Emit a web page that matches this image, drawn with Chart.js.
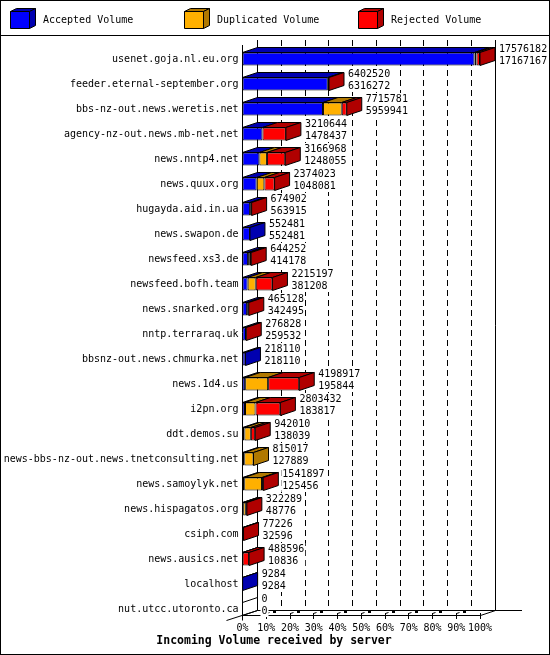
<!DOCTYPE html>
<html>
<head>
<meta charset="utf-8">
<script src="https://cdn.jsdelivr.net/npm/chart.js@4.4.1/dist/chart.umd.min.js"></script>
<style>
  html, body { margin: 0; padding: 0; background: #fff; }
  canvas { display: block; }
</style>
</head>
<body>
<canvas id="volume" width="550" height="655"></canvas>
<script>
var servers = [
  'usenet.goja.nl.eu.org', 'feeder.eternal-september.org', 'bbs-nz-out.news.weretis.net',
  'agency-nz-out.news.mb-net.net', 'news.nntp4.net', 'news.quux.org', 'hugayda.aid.in.ua',
  'news.swapon.de', 'newsfeed.xs3.de', 'newsfeed.bofh.team', 'news.snarked.org',
  'nntp.terraraq.uk', 'bbsnz-out.news.chmurka.net', 'news.1d4.us', 'i2pn.org', 'ddt.demos.su',
  'news-bbs-nz-out.news.tnetconsulting.net', 'news.samoylyk.net', 'news.hispagatos.org',
  'csiph.com', 'news.ausics.net', 'localhost', 'nut.utcc.utoronto.ca'
];
var totalVolume = [
  17576182, 6402520, 7715781, 3210644, 3166968, 2374023, 674902, 552481, 644252, 2215197,
  465128, 276828, 218110, 4198917, 2803432, 942010, 815017, 1541897, 322289, 77226, 488596,
  9284, 0
];
var acceptedVolume = [
  17167167, 6316272, 5959941, 1478437, 1248055, 1048081, 563915, 552481, 414178, 381208,
  342495, 259532, 218110, 195844, 183817, 138039, 127889, 125456, 48776, 32596, 10836,
  9284, 0
];
// duplicated / rejected split read off the bar segments (estimates)
var duplicatedVolume = [
  150000, 0, 1385000, 0, 560000, 570000, 0, 0, 80000, 600000,
  0, 0, 0, 1700000, 780000, 480000, 687128, 1320000, 200000, 0, 0,
  0, 0
];
var rejectedVolume = [
  259015, 86248, 370840, 1732207, 1358913, 755942, 110987, 0, 150074, 1233989,
  122633, 17296, 0, 2303073, 1839615, 323971, 0, 96441, 73513, 44630, 477760,
  0, 0
];
var pctTicks = [0, 10, 20, 30, 40, 50, 60, 70, 80, 90, 100];

var maxTotal = Math.max.apply(null, totalVolume);
var DX = 15, DY = 5;
var FONT = 'DejaVu Sans Mono';

var series = [
  { label: 'Accepted Volume', data: acceptedVolume, front: '#0000ff', dark: '#0000b0' },
  { label: 'Duplicated Volume', data: duplicatedVolume, front: '#ffb000', dark: '#b07800' },
  { label: 'Rejected Volume', data: rejectedVolume, front: '#ff0000', dark: '#b00000' }
];

function line(ctx, x1, y1, x2, y2) {
  ctx.beginPath();
  ctx.moveTo(x1, y1);
  ctx.lineTo(x2, y2);
  ctx.stroke();
}

function face(ctx, pts, fill) {
  ctx.beginPath();
  ctx.moveTo(pts[0], pts[1]);
  for (var k = 2; k < pts.length; k += 2) ctx.lineTo(pts[k], pts[k + 1]);
  ctx.closePath();
  if (fill) {
    ctx.fillStyle = fill;
    ctx.fill();
  }
  ctx.stroke();
}

var cube3d = {
  id: 'cube3d',
  beforeDatasetsDraw: function (chart) {
    var ctx = chart.ctx, xs = chart.scales.x, area = chart.chartArea;
    var x0 = Math.floor(xs.getPixelForValue(0)) + 0.5;
    var x100 = Math.floor(xs.getPixelForValue(maxTotal)) + 0.5;
    ctx.save();
    ctx.strokeStyle = '#000';
    ctx.lineWidth = 1;
    // back wall
    pctTicks.forEach(function (p) {
      var bx = Math.floor(xs.getPixelForValue(p / 100 * maxTotal) + DX) + 0.5;
      ctx.setLineDash(p === 0 || p === 100 ? [] : [6, 4]);
      line(ctx, bx, 40, bx, 610.5);
    });
    ctx.setLineDash([]);
    // left wall front edge
    line(ctx, x0, area.top - 1.5, x0, 620.5);
    // floor
    line(ctx, x0, 615.5, x100, 615.5);
    line(ctx, x0 + DX, 610.5, 522, 610.5);
    line(ctx, x100, 615.5, x100 + DX, 610.5);
    line(ctx, x0 - 16, 620.5, x0 + DX, 610.5);
    pctTicks.forEach(function (p) {
      var tx = Math.floor(xs.getPixelForValue(p / 100 * maxTotal)) + 0.5;
      line(ctx, tx, 613, tx, 619);
      if (p > 0 && p < 100) {
        line(ctx, tx, 613.5, tx + 3, 612.5);
        ctx.fillStyle = '#000';
        ctx.fillRect(tx + 6.5, 610, 3, 3);
      }
    });
    ctx.restore();
  },
  afterDatasetsDraw: function (chart) {
    var ctx = chart.ctx, xs = chart.scales.x;
    ctx.save();
    ctx.strokeStyle = '#000';
    ctx.lineWidth = 1;
    ctx.font = '10px "' + FONT + '"';
    ctx.textAlign = 'left';
    ctx.textBaseline = 'middle';
    servers.forEach(function (name, i) {
      var last = null, end = xs.getPixelForValue(0), top = 0, bottom = 0, cy = 0;
      chart.data.datasets.forEach(function (ds, d) {
        var el = chart.getDatasetMeta(d).data[i];
        cy = el.y;
        top = el.y - el.height / 2;
        bottom = el.y + el.height / 2;
        if (ds.data[i] > 0) {
          face(ctx, [el.base, top, el.x, top, el.x + DX, top - DY, el.base + DX, top - DY], series[d].dark);
          last = d;
          end = el.x;
        }
      });
      if (last === null) {
        face(ctx, [end, top, end + DX, top - DY, end + DX, bottom - DY, end, bottom], null);
      } else {
        face(ctx, [end, top, end + DX, top - DY, end + DX, bottom - DY, end, bottom], series[last].dark);
      }
      // value labels sit on a white box that hides the back-wall grid
      var t1 = String(totalVolume[i]), t2 = String(acceptedVolume[i]);
      var tw = Math.max(ctx.measureText(t1).width, ctx.measureText(t2).width);
      var tx = end + DX + 4;
      ctx.fillStyle = '#fff';
      ctx.fillRect(tx - 1, cy - 16, tw + 2, 24);
      ctx.fillStyle = '#000';
      ctx.fillText(t1, tx, cy - 10);
      ctx.fillText(t2, tx, cy + 2);
    });
    ctx.restore();
  },
  afterDraw: function (chart) {
    var ctx = chart.ctx;
    var legendX = [10, 184, 358];
    ctx.save();
    ctx.strokeStyle = '#000';
    ctx.lineWidth = 1;
    // legend
    ctx.font = '10px "' + FONT + '"';
    ctx.textBaseline = 'middle';
    ctx.textAlign = 'left';
    series.forEach(function (s, d) {
      var lx = legendX[d] + 0.5;
      face(ctx, [lx, 11.5, lx + 19, 11.5, lx + 19, 28.5, lx, 28.5], s.front);
      face(ctx, [lx, 11.5, lx + 6, 8.5, lx + 25, 8.5, lx + 19, 11.5], s.dark);
      face(ctx, [lx + 19, 11.5, lx + 25, 8.5, lx + 25, 25.5, lx + 19, 28.5], s.dark);
      ctx.fillStyle = '#000';
      ctx.fillText(s.label, legendX[d] + 33, 20);
    });
    // title
    ctx.font = 'bold 11.5px "' + FONT + '"';
    ctx.textAlign = 'center';
    ctx.fillText('Incoming Volume received by server', 274, 641.5);
    // frame
    line(ctx, 0, 35.5, 550, 35.5);
    ctx.strokeRect(0.5, 0.5, 549, 654);
    ctx.restore();
  }
};

new Chart(document.getElementById('volume').getContext('2d'), {
  type: 'bar',
  data: {
    labels: servers,
    datasets: series.map(function (s) {
      return {
        label: s.label,
        data: s.data,
        backgroundColor: s.front,
        borderColor: '#000',
        borderWidth: 1,
        borderSkipped: false,
        inflateAmount: 0,
        barThickness: 13
      };
    })
  },
  options: {
    responsive: false,
    animation: false,
    indexAxis: 'y',
    layout: { padding: { top: 46.5, right: 70, bottom: 0, left: 0 } },
    plugins: {
      legend: { display: false },
      tooltip: { enabled: false }
    },
    scales: {
      x: {
        stacked: true,
        min: 0,
        max: maxTotal,
        grid: { display: false, drawTicks: false },
        border: { display: false },
        afterFit: function (s) { s.height = 33.5; },
        afterBuildTicks: function (s) {
          s.ticks = pctTicks.map(function (p) { return { value: p / 100 * maxTotal }; });
        },
        ticks: {
          autoSkip: false,
          maxRotation: 0,
          padding: 1,
          color: '#000',
          font: { family: FONT, size: 10 },
          callback: function (v) { return Math.round(v / maxTotal * 100) + '%'; }
        }
      },
      y: {
        stacked: true,
        grid: { display: false, drawTicks: false },
        border: { display: false },
        afterFit: function (s) { s.width = 242.5; },
        ticks: {
          autoSkip: false,
          padding: 4,
          color: '#000',
          font: { family: FONT, size: 10 }
        }
      }
    }
  },
  plugins: [cube3d]
});
</script>
</body>
</html>
